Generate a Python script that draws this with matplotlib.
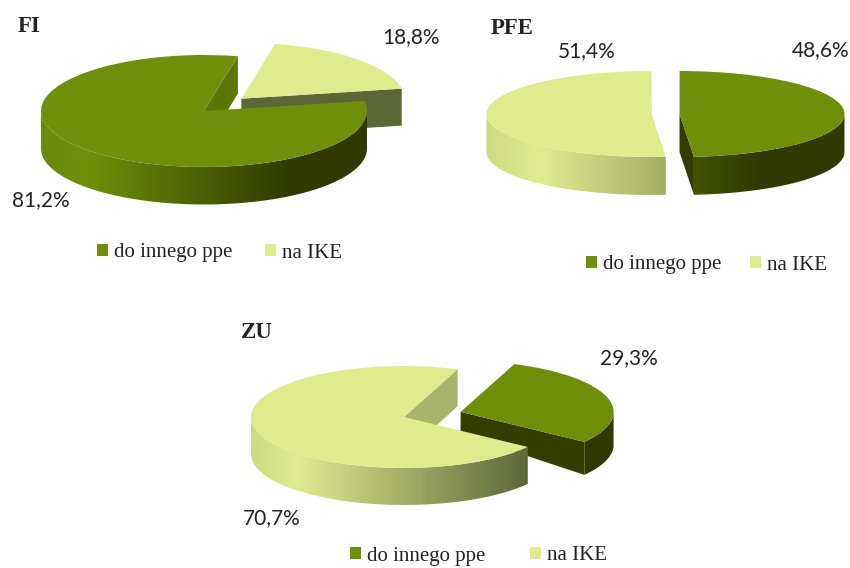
import numpy as np
import matplotlib
matplotlib.use('Agg')
import matplotlib.pyplot as plt
from matplotlib.path import Path
from matplotlib.colors import LinearSegmentedColormap

W, H = 850, 568

labels = ['do innego ppe', 'na IKE']
fi = [81.2, 18.8]
pfe = [48.6, 51.4]
zu = [29.3, 70.7]

GREEN = '#718E0A'
LIGHT = '#DFEC8E'
green_cut = '#333D00'
light_cut = '#5D6637'

# gradient along the side walls, left to right across the whole pie
green_wall = LinearSegmentedColormap.from_list('g', [(0, '#6B890A'), (0.15, '#718E0A'), (0.76, '#303A00'), (1, '#303A00')])
light_wall = LinearSegmentedColormap.from_list('l', [(0, '#CDDB82'), (0.15, '#DFEC8E'), (0.92, '#5B6437'), (1, '#5B6437')])

fig = plt.figure(figsize=(W / 100, H / 100), dpi=100, facecolor='white')


def front_wall(ax, w, depth, cmap, reach, z):
    a = np.radians(np.linspace(w.theta1, w.theta2, 300))
    a = a[np.sin(a) < 0]
    if len(a) < 2:
        return
    cx, cy = w.center
    x = cx + np.cos(a)
    y = cy + np.sin(a)
    verts = np.r_[np.c_[x, y], np.c_[x, y - depth][::-1], [[x[0], y[0]]]]
    xs = np.linspace(x.min(), x.max(), 256)
    grad = np.clip((xs + reach) / (2 * reach), 0, 1).reshape(1, -1)
    im = ax.imshow(grad, cmap=cmap, vmin=0, vmax=1, aspect='auto', zorder=z,
                   extent=[x.min(), x.max(), y.min() - depth - 0.1, y.max() + 0.1])
    im.set_clip_path(Path(verts), ax.transData)


def cut_face(ax, w, theta, depth, apex_depth, color, z):
    a = np.radians(theta)
    cx, cy = w.center
    px, py = cx + np.cos(a), cy + np.sin(a)
    ax.fill([cx, px, px, cx], [cy, py, py - depth, cy - apex_depth], color=color, lw=0, zorder=z)


def draw_pie(values, start, cx, cy, rx, ry, shifts, depths, apex_depths, order, face_cols, reach):
    ax = fig.add_axes([0, 0, 1, 1])
    ax.patch.set_alpha(0)
    wedges, _ = ax.pie(values, startangle=start, colors=[GREEN, LIGHT], radius=1,
                       wedgeprops={'linewidth': 0})
    maps = [green_wall, light_wall]
    for i, w in enumerate(wedges):
        w.set_center(shifts[i])
        z = 2 + 3 * order[i]
        w.set_zorder(z + 2)
        dep = depths[i] / ry
        for th, vis in [(w.theta1, np.cos(np.radians(w.theta1)) > 0),
                        (w.theta2, np.cos(np.radians(w.theta2)) < 0)]:
            if vis:
                cut_face(ax, w, th, dep, apex_depths[i] / ry, face_cols[i], z)
        front_wall(ax, w, dep, maps[i], reach, z + 1)
    ax.set_xlim(-cx / rx, (W - cx) / rx)
    ax.set_ylim((cy - H) / ry, cy / ry)
    ax.set_axis_off()
    return wedges


def put_legend(wedges, x, y, gap):
    fig.legend(wedges, labels, loc='center left', ncol=2, frameon=False,
               bbox_to_anchor=(x / W, 1 - y / H), bbox_transform=fig.transFigure,
               prop={'family': 'Liberation Serif', 'size': 15}, labelcolor='#222222',
               handlelength=0.53, handleheight=0.53, handletextpad=0.29,
               columnspacing=gap, borderpad=0, borderaxespad=0)


w1 = draw_pie(fi, 78, 204, 111, 163, 56, [(0, 0), (0.229, 0.22)], [37.5, 37], [37.5, 37], [1, 0],
              ['#5C7508', light_cut], 1)
w2 = draw_pie(pfe, -85, 665.5, 114, 165, 43, [(0.085, 0), (-0.085, 0)], [38, 38], [38, 38], [0, 1],
              [green_cut, light_cut], 1.085)
w3 = draw_pie(zu, -36, 404, 417, 153, 51, [(0.37, 0.1), (0, 0)], [33, 37], [22, 38], [0, 1],
              [green_cut, '#A8B46C'], 1)

put_legend(w1, 97, 253, 1.58)
put_legend(w2, 586, 265, 1.38)
put_legend(w3, 350, 556, 2.15)


def pct(v):
    return f'{v:.1f}%'.replace('.', ',')


def px_text(x, y, s, **kw):
    fig.text(x / W, 1 - y / H, s, ha='center', va='center', **kw)


num = {'family': 'Lato', 'size': 15, 'color': '#222222'}
px_text(41, 200, pct(fi[0]), **num)
px_text(411, 37, pct(fi[1]), **num)
px_text(821, 50, pct(pfe[0]), **num)
px_text(587, 51, pct(pfe[1]), **num)
px_text(629, 358, pct(zu[0]), **num)
px_text(272, 518, pct(zu[1]), **num)

head = {'family': 'Liberation Serif', 'size': 16.5, 'weight': 'bold', 'color': '#222222'}
px_text(29, 26, 'FI', **head)
px_text(512, 28, 'PFE', **head)
px_text(257, 333, 'ZU', **head)

fig.savefig('out.png', dpi=100)
